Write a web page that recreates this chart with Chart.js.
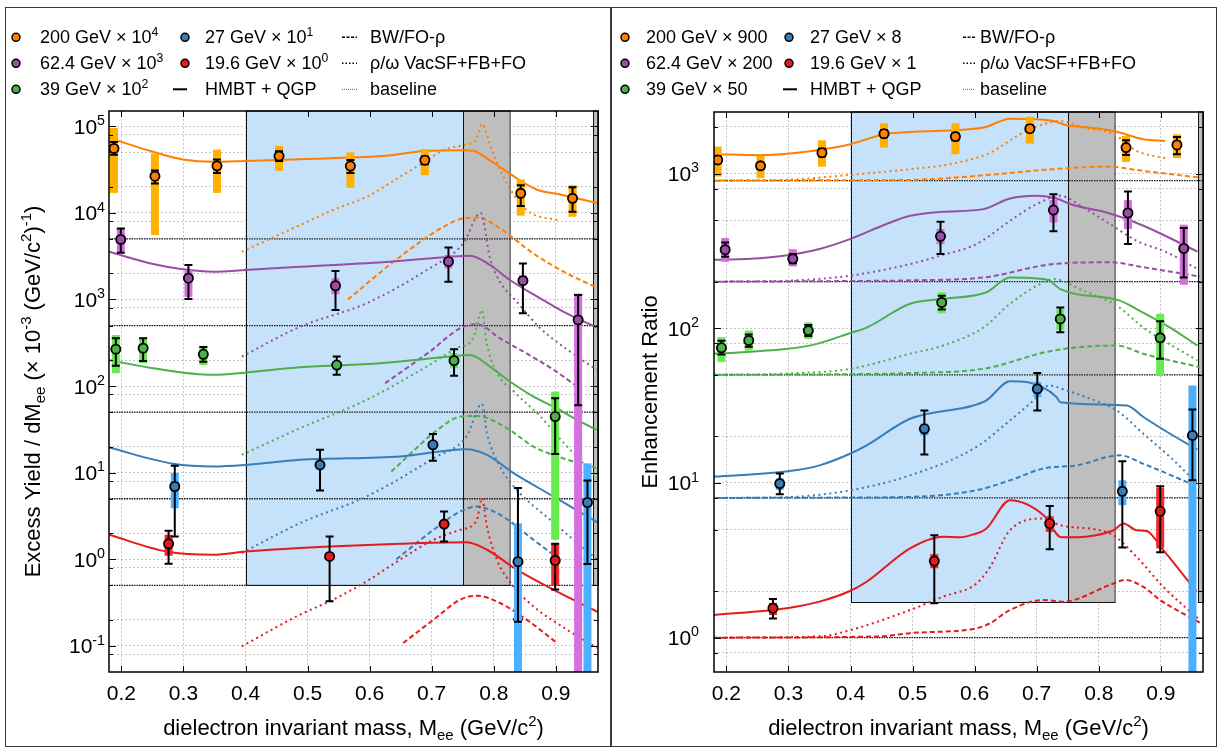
<!DOCTYPE html>
<html>
<head>
<meta charset="utf-8">
<script src="https://cdn.jsdelivr.net/npm/chart.js@4.4.0/dist/chart.umd.min.js"></script>
<style>
  body { margin: 0; background: #fff; }
  #wrap { position: relative; width: 1221px; height: 747px; }
  canvas { position: absolute; top: 0; }
  #yieldChart { left: 0; }
  #ratioChart { left: 611px; }
  .frame { position: absolute; border: 1.5px solid #3a3a3a; box-sizing: border-box; pointer-events: none; }
</style>
</head>
<body>
<div id="wrap">
  <canvas id="yieldChart" width="611" height="747"></canvas>
  <canvas id="ratioChart" width="610" height="747"></canvas>
  <div class="frame" style="left:5px;top:7px;width:607px;height:740px"></div>
  <div class="frame" style="left:610px;top:7px;width:607px;height:740px"></div>
</div>
<script>
// categories and axis setup
const energies = ['200', '62.4', '39', '27', '19.6'];
const yieldScaleExp = ['4', '3', '2', '1', '0'];
const ratioScale = ['900', '200', '50', '8', '1'];
const yieldBaselines = [5000, 500, 50, 5, 0.5];
const ratioBaselines = [900, 200, 50, 8, 1];
const massTicks = [0.2, 0.3, 0.4, 0.5, 0.6, 0.7, 0.8, 0.9];
const massRange = [0.18, 0.968];
const yieldRange = [0.05, 1.5e5];
const ratioRange = [0.6, 2500];
const yieldMajor = [0.1, 1, 10, 100, 1000, 10000, 100000];
const yieldMinor = [0.08, 0.2, 0.5, 0.8, 2, 5, 8, 20, 50, 80, 200, 500, 800, 2000, 5000, 8000, 20000, 50000, 80000];
const ratioMajor = [1, 10, 100, 1000];
const ratioMinor = [0.8, 2, 5, 8, 20, 50, 80, 200, 500, 800, 2000];
const bandEdges = [0.4, 0.75, 0.825, 0.96];
const yieldBandFloor = 0.5;
const ratioBandFloor = 1.7;

// data points: [mass, value, statLow, statHigh, sysLow, sysHigh]
// ---- excess yield panel ----
const yPts200 = [[0.188,5.55e4,4.68e4,6.6e4,1.7e4,9.55e4],[0.254,2.65e4,2.19e4,3.09e4,5.55e3,4.85e4],[0.354,3.49e4,2.88e4,4.14e4,1.7e4,5.37e4],[0.454,4.52e4,3.98e4,5.13e4,3.06e4,5.94e4],[0.569,3.47e4,2.88e4,4.07e4,1.95e4,4.99e4],[0.689,4.06e4,3.63e4,4.47e4,2.73e4,5.45e4],[0.8435,1.68e4,1.2e4,2.09e4,9.27e3,2.43e4],[0.927,1.47e4,1.03e4,1.97e4,9.0e3,2.09e4]];
const yPts62 = [[0.199,4.94e3,3.47e3,6.61e3,3.55e3,6.61e3],[0.308,1.76e3,1.01e3,2.5e3,1.07e3,2.19e3],[0.545,1.44e3,757,2.13e3,1.15e3,1.76e3],[0.727,2.75e3,1.6e3,3.98e3,2.29e3,3.26e3],[0.847,1.65e3,692,2.61e3,1.48e3,1.91e3],[0.936,581,60,1.13e3,0.01,1.17e3]];
const yPts39 = [[0.191,267,172,356,141,389],[0.235,274,195,356,184,366],[0.332,233,191,282,175,291],[0.547,175,135,219,158,195],[0.736,197,132,267,161,240],[0.899,44.5,16.4,72.4,1.68,86.5]];
const yPts27 = [[0.286,6.93,1.84,12.0,3.89,10.0],[0.52,12.3,6.24,18.4,11.2,13.5],[0.702,21.0,13.7,27.9,19.0,22.9],[0.839,0.94,0.19,6.64,0.01,2.6],[0.951,4.53,0.88,8.13,0.01,12.8]];
const yPts19 = [[0.276,1.51,0.89,2.14,1.1,1.92],[0.5355,1.08,0.327,1.84,1.0,1.17],[0.72,2.55,1.61,3.57,2.34,2.75],[0.899,0.97,0.447,1.51,0.495,1.51]];
const yLimit27 = [[0.839, 0.19]];

// model curves: HMBT + QGP (solid), rho/omega VacSF (dotted), BW/FO-rho (dashed)
const yHm200 = [[0.18,7.35e4],[0.251,5.07e4],[0.299,4.14e4],[0.348,3.89e4],[0.4,3.98e4],[0.488,4.17e4],[0.621,4.52e4],[0.692,5.2e4],[0.751,5.3e4],[0.767,5.2e4],[0.789,4.26e4],[0.821,2.99e4],[0.869,1.86e4],[0.907,1.63e4],[0.968,1.29e4]];
const yRho200 = [[0.394,3.56e3],[0.488,7.23e3],[0.541,1.08e4],[0.595,1.53e4],[0.649,2.61e4],[0.689,3.89e4],[0.719,5.3e4],[0.751,6.05e4],[0.772,7.0e4],[0.781,1.06e5],[0.797,5.3e4],[0.821,2.19e4],[0.853,1.08e4],[0.907,8.11e3]];
const yBw200 = [[0.565,1.0e3],[0.649,3.12e3],[0.724,7.23e3],[0.751,8.63e3],[0.775,8.79e3],[0.81,6.61e3],[0.864,3.39e3],[0.918,2.0e3],[0.966,1.37e3]];
const yHm62 = [[0.18,3.56e3],[0.251,2.57e3],[0.299,2.23e3],[0.348,2.09e3],[0.4,2.19e3],[0.488,2.39e3],[0.633,2.73e3],[0.73,3.12e3],[0.762,3.2e3],[0.794,2.5e3],[0.826,1.68e3],[0.875,1.03e3],[0.912,724],[0.966,473]];
const yRho62 = [[0.394,219],[0.488,485],[0.595,904],[0.692,2.19e3],[0.751,4.45e3],[0.779,1.0e4],[0.794,2.99e3],[0.81,1.6e3],[0.837,944],[0.875,466],[0.923,250],[0.966,154]];
const yBw62 = [[0.625,108],[0.697,250],[0.746,466],[0.773,518],[0.81,356],[0.857,229],[0.901,147],[0.934,98.6]];
const yHm39 = [[0.18,200],[0.251,161],[0.348,135],[0.4,143],[0.488,165],[0.617,184],[0.73,219],[0.762,229],[0.794,168],[0.826,113],[0.864,75.7],[0.901,55.6],[0.934,40.7],[0.966,31.3]];
const yRho39 = [[0.394,16.1],[0.488,32.7],[0.595,69.3],[0.692,168],[0.74,274],[0.767,356],[0.781,757],[0.788,326],[0.804,147],[0.832,87.1],[0.875,44.7],[0.912,22.4],[0.966,8.9]];
const yBw39 = [[0.635,10.3],[0.713,32.7],[0.746,44.5],[0.773,45.3],[0.821,32.7],[0.864,20],[0.91,14.8],[0.966,11.3]];
const yHm27 = [[0.18,19.5],[0.283,12.7],[0.348,11.8],[0.4,12.3],[0.488,14.1],[0.649,15.4],[0.756,18.7],[0.789,16.1],[0.832,9.89],[0.896,5.32],[0.969,2.62]];
const yRho27 = [[0.394,1.18],[0.488,2.62],[0.595,5.32],[0.703,14.7],[0.756,26.2],[0.781,62.4],[0.789,28.6],[0.81,11.8],[0.837,6.35],[0.891,2.86],[0.966,1.0]];
const yBw27 = [[0.643,1.0],[0.703,2.19],[0.746,3.57],[0.773,4.07],[0.81,3.27],[0.864,1.68],[0.907,0.99]];
const yHm19 = [[0.18,1.92],[0.273,1.23],[0.348,1.13],[0.4,1.23],[0.488,1.35],[0.649,1.51],[0.756,1.57],[0.789,1.29],[0.837,0.76],[0.896,0.447],[0.969,0.244]];
const yRho19 = [[0.394,0.099],[0.488,0.23],[0.541,0.342],[0.595,0.556],[0.649,0.99],[0.703,1.68],[0.746,2.19],[0.773,2.86],[0.781,5.09],[0.789,2.4],[0.805,0.99],[0.832,0.486],[0.864,0.286],[0.918,0.154],[0.966,0.0948]];
const yBw19 = [[0.654,0.108],[0.703,0.201],[0.746,0.342],[0.773,0.38],[0.81,0.313],[0.853,0.201],[0.902,0.108]];

// ---- enhancement ratio panel ----
const rPts200 = [[0.186,1225,1175,1288,957,1493],[0.255,1122,1072,1175,933,1300],[0.354,1365,1288,1445,1109,1641],[0.454,1811,1718,1905,1472,2113],[0.569,1734,1641,1820,1334,2113],[0.689,1950,1862,2042,1563,2333],[0.844,1472,1318,1641,1189,1750],[0.926,1531,1334,1726,1259,1795]];
const rPts62 = [[0.198,322,290,359,269,383],[0.307,281,263,302,251,324],[0.545,393,302,488,350,438],[0.727,581,423,736,483,676],[0.847,556,350,766,438,673],[0.937,328,213,445,191,467]];
const rPts39 = [[0.192,74.8,67.6,83.2,60.4,87.5],[0.236,83.4,75.9,91.2,71.8,96.6],[0.332,96.6,89.1,105,85.3,109],[0.547,147,132,162,125,171],[0.738,115,94.2,136,97.7,133],[0.899,86.7,63.5,111,49.5,124]];
const rPts27 = [[0.286,9.91,8.45,11.5,9.02,10.7],[0.519,22.4,15.3,29.4,20.3,24.2],[0.701,40.6,29.4,51.3,35.9,44.9],[0.838,8.83,3.83,13.8,7.18,10.4],[0.951,20.3,10.4,29.9,0.1,42.7]];
const rPts19 = [[0.275,1.55,1.33,1.78,1.4,1.68],[0.535,3.13,1.67,4.6,2.81,3.47],[0.721,5.47,3.73,7.11,4.83,6.1],[0.899,6.56,3.56,9.53,3.78,9.33]];

const rHm200 = [[0.18,1334],[0.254,1315],[0.302,1346],[0.356,1435],[0.4,1549],[0.454,1795],[0.496,1858],[0.614,1982],[0.657,2265],[0.7,2244],[0.727,2188],[0.748,2051],[0.775,2000],[0.824,1884],[0.872,1667],[0.907,1626]];
const rRho200 = [[0.18,900],[0.3,912],[0.4,982],[0.496,1067],[0.56,1151],[0.625,1365],[0.673,1795],[0.711,2084],[0.738,2188],[0.775,1982],[0.824,1795],[0.861,1400],[0.907,1256]];
const rBw200 = [[0.18,900],[0.4,905],[0.496,910],[0.625,982],[0.727,1067],[0.813,1109],[0.872,1040],[0.963,942]];
const rHm62 = [[0.18,277],[0.254,284],[0.302,298],[0.35,325],[0.4,378],[0.458,472],[0.496,533],[0.549,566],[0.614,589],[0.657,690],[0.7,718],[0.732,690],[0.754,635],[0.818,552],[0.872,460],[0.959,313]];
const rRho62 = [[0.18,200],[0.3,203],[0.4,219],[0.496,260],[0.549,298],[0.603,350],[0.657,495],[0.7,635],[0.738,718],[0.775,604],[0.818,472],[0.861,368],[0.91,309],[0.959,242]];
const rBw62 = [[0.18,200],[0.4,202],[0.496,204],[0.615,213],[0.727,260],[0.818,267],[0.872,248],[0.963,216]];
const rHm39 = [[0.18,68.4],[0.298,73.6],[0.346,79.3],[0.4,93.3],[0.426,101],[0.496,144],[0.549,155],[0.619,171],[0.657,213],[0.7,210],[0.721,203],[0.738,179],[0.834,151],[0.861,133],[0.915,101],[0.959,77.3]];
const rRho39 = [[0.18,50],[0.3,51],[0.4,54.7],[0.496,68.4],[0.549,77.3],[0.614,101],[0.657,144],[0.7,188],[0.727,208],[0.775,175],[0.829,140],[0.872,101],[0.959,61.9]];
const rBw39 = [[0.18,50],[0.4,50.5],[0.496,51.3],[0.614,54.7],[0.727,71.8],[0.829,77.3],[0.872,68.4],[0.963,56]];
const rHm27 = [[0.18,11.0],[0.299,11.9],[0.35,13.0],[0.4,15.5],[0.426,17.5],[0.496,26],[0.598,31.7],[0.619,34.2],[0.657,45.5],[0.684,44.9],[0.732,35.9],[0.738,33.3],[0.845,31.7],[0.872,26.7],[0.915,20.8],[0.959,16.4]];
const rRho27 = [[0.18,8],[0.3,8.1],[0.4,8.97],[0.496,11.2],[0.603,17.1],[0.657,25.4],[0.695,34.2],[0.72,42.7],[0.748,39.6],[0.786,35.1],[0.829,29.4],[0.872,20.8],[0.915,14.7],[0.959,9.91]];
const rBw27 = [[0.18,8],[0.4,8.05],[0.496,8.13],[0.603,8.97],[0.657,10.4],[0.711,12.4],[0.765,13],[0.834,15.1],[0.872,13.3],[0.963,9.33]];
const rHm19 = [[0.18,1.4],[0.297,1.55],[0.35,1.71],[0.4,2.01],[0.426,2.3],[0.496,3.78],[0.549,4.49],[0.576,4.45],[0.598,4.65],[0.619,5.08],[0.657,7.73],[0.711,6.19],[0.74,4.45],[0.824,4.95],[0.84,5.47],[0.861,4.95],[0.877,4.9],[0.904,3.68],[0.958,1.98]];
const rRho19 = [[0.18,1],[0.35,1.02],[0.4,1.12],[0.496,1.51],[0.549,1.84],[0.603,2.24],[0.625,2.87],[0.657,4.95],[0.711,5.89],[0.738,5.33],[0.818,4.72],[0.861,3.33],[0.904,2.13],[0.96,1.33]];
const rBw19 = [[0.18,1],[0.45,1.02],[0.496,1.07],[0.603,1.15],[0.625,1.24],[0.657,1.51],[0.711,1.75],[0.743,1.71],[0.818,2.19],[0.842,2.36],[0.872,2.13],[0.899,1.75],[0.963,1.25]];

// colours
const seriesColors = ['#ff7f00', '#984ea3', '#4daf4a', '#377eb8', '#e41a1c'];
const sysColors = ['#ffb000', '#d76ee0', '#66ec4e', '#4cb0ff', '#ff2424'];
const bandBlue = '#c6e1fa';
const bandGrey = '#bebebe';
const FONT = '"Liberation Sans", Arial, Helvetica, sans-serif';

// draws text with sub/superscripts, parts = [[text, ''|'sup'|'sub'], ...]
function rich(ctx, parts, x, y, fs, align) {
  const sizes = parts.map(p => p[1] ? fs * 0.68 : fs);
  let total = 0;
  const widths = parts.map((p, i) => {
    ctx.font = sizes[i] + 'px ' + FONT;
    const w = ctx.measureText(p[0]).width;
    total += w;
    return w;
  });
  let cx = align === 'center' ? x - total / 2 : (align === 'right' ? x - total : x);
  ctx.textAlign = 'left';
  ctx.textBaseline = 'alphabetic';
  parts.forEach((p, i) => {
    ctx.font = sizes[i] + 'px ' + FONT;
    const dy = p[1] === 'sup' ? -fs * 0.42 : (p[1] === 'sub' ? fs * 0.24 : 0);
    ctx.fillText(p[0], cx, y + dy);
    cx += widths[i];
  });
  return total;
}

function toXY(arr) {
  return arr.map(r => ({ x: r[0], y: r[1] }));
}

function curve(arr, color, dash, order, width) {
  return {
    type: 'line', data: toXY(arr), borderColor: color, borderWidth: width || 2,
    borderDash: dash, pointRadius: 0, fill: false, order: order,
    cubicInterpolationMode: 'monotone'
  };
}

const yieldPanel = {
  pts: [yPts200, yPts62, yPts39, yPts27, yPts19],
  hm: [yHm200, yHm62, yHm39, yHm27, yHm19],
  rho: [yRho200, yRho62, yRho39, yRho27, yRho19],
  bw: [yBw200, yBw62, yBw39, yBw27, yBw19],
  base: yieldBaselines, major: yieldMajor, minor: yieldMinor, range: yieldRange,
  floor: yieldBandFloor, limits: yLimit27,
  pad: { left: 0, top: 111, right: 13, bottom: 0 }, yWidth: 109, labelGap: 4,
  title: [['Excess Yield / dM', ''], ['ee', 'sub'], [' (× 10', ''], ['-3', 'sup'], [' (GeV/c', ''], ['2', 'sup'], [')', ''], ['-1', 'sup'], [')', '']],
  titleX: 40,
  leg: { mark: [16, 185], text: [40, 205], hm: [173, 187], line: [342, 357], lineText: 370 },
  legText: i => [[energies[i] + ' GeV × 10', ''], [yieldScaleExp[i], 'sup']]
};

const ratioPanel = {
  pts: [rPts200, rPts62, rPts39, rPts27, rPts19],
  hm: [rHm200, rHm62, rHm39, rHm27, rHm19],
  rho: [rRho200, rRho62, rRho39, rRho27, rRho19],
  bw: [rBw200, rBw62, rBw39, rBw27, rBw19],
  base: ratioBaselines, major: ratioMajor, minor: ratioMinor, range: ratioRange,
  floor: ratioBandFloor, limits: [],
  pad: { left: 0, top: 112, right: 18, bottom: 0 }, yWidth: 103, labelGap: 15,
  title: [['Enhancement Ratio', '']],
  titleX: 46,
  leg: { mark: [14, 178], text: [35, 199], hm: [172, 186], line: [352, 364], lineText: 369 },
  legText: i => [[energies[i] + ' GeV × ' + ratioScale[i], '']]
};

// panel settings looked up by canvas id (kept out of chart options)
const panels = { yieldChart: yieldPanel, ratioChart: ratioPanel };

const decor = {
  id: 'decor',
  beforeDatasetsDraw(chart) {
    const p = panels[chart.canvas.id];
    const { ctx, chartArea: a, scales: { x, y } } = chart;
    const yb = y.getPixelForValue(p.floor);
    const rects = [[bandEdges[0], bandEdges[1], bandBlue], [bandEdges[1], bandEdges[2], bandGrey], [bandEdges[3], massRange[1], bandGrey]];
    ctx.save();
    rects.forEach(([x0, x1, c]) => {
      const px0 = x.getPixelForValue(x0), px1 = x.getPixelForValue(x1);
      ctx.fillStyle = c;
      ctx.fillRect(px0, a.top, px1 - px0, yb - a.top);
      ctx.strokeStyle = '#111';
      ctx.lineWidth = 1;
      ctx.strokeRect(Math.round(px0) + 0.5, a.top, px1 - px0, Math.round(yb - a.top) + 0.5);
    });
    ctx.restore();
  },
  beforeDatasetDraw(chart, args) {
    const ds = chart.data.datasets[args.index];
    if (!ds.err) return;
    const { ctx, chartArea: a, scales: { x, y } } = chart;
    ctx.save();
    ctx.beginPath();
    ctx.rect(a.left, a.top, a.width, a.height);
    ctx.clip();
    ds.err.forEach(r => {
      const px = x.getPixelForValue(r[0]);
      const s0 = y.getPixelForValue(r[4]), s1 = y.getPixelForValue(r[5]);
      ctx.fillStyle = ds.sysColor;
      ctx.fillRect(px - 4, s1, 8, s0 - s1);
    });
    ds.err.forEach(r => {
      const px = x.getPixelForValue(r[0]);
      const e0 = y.getPixelForValue(r[2]), e1 = y.getPixelForValue(r[3]);
      ctx.strokeStyle = '#000';
      ctx.lineWidth = 2;
      ctx.beginPath();
      ctx.moveTo(px, e0); ctx.lineTo(px, e1);
      ctx.moveTo(px - 4, e0); ctx.lineTo(px + 4, e0);
      ctx.moveTo(px - 4, e1); ctx.lineTo(px + 4, e1);
      ctx.stroke();
    });
    ctx.restore();
  },
  afterDraw(chart) {
    const p = panels[chart.canvas.id];
    const { ctx, chartArea: a, scales: { x, y } } = chart;
    ctx.save();
    // axis frame
    ctx.strokeStyle = '#000';
    ctx.lineWidth = 1.5;
    ctx.strokeRect(a.left, a.top, a.width, a.height);
    // inward ticks
    ctx.lineWidth = 1;
    ctx.beginPath();
    p.major.concat(p.minor).forEach(v => {
      const py = Math.round(y.getPixelForValue(v)) + 0.5;
      const len = p.major.includes(v) ? 7 : 4;
      ctx.moveTo(a.left, py); ctx.lineTo(a.left + len, py);
      ctx.moveTo(a.right, py); ctx.lineTo(a.right - len, py);
    });
    massTicks.forEach(v => {
      const px = Math.round(x.getPixelForValue(v)) + 0.5;
      ctx.moveTo(px, a.bottom); ctx.lineTo(px, a.bottom - 6);
      ctx.moveTo(px, a.top); ctx.lineTo(px, a.top + 6);
    });
    ctx.stroke();
    // y tick labels 10^n
    ctx.fillStyle = '#000';
    p.major.forEach(v => {
      const py = y.getPixelForValue(v);
      const ex = String(Math.round(Math.log10(v)));
      rich(ctx, [['10', ''], [ex, 'sup']], a.left - p.labelGap, py + 7.5, 21, 'right');
    });
    // x title
    rich(ctx, [['dielectron invariant mass, M', ''], ['ee', 'sub'], [' (GeV/c', ''], ['2', 'sup'], [')', '']],
      (a.left + a.right) / 2, 735, 22, 'center');
    // y title
    ctx.save();
    ctx.translate(p.titleX, (a.top + a.bottom) / 2);
    ctx.rotate(-Math.PI / 2);
    rich(ctx, p.title, 0, 0, 22, 'center');
    ctx.restore();
    // legend
    const rows = [37.3, 63.3, 89.3];
    const L = p.leg;
    energies.forEach((e, i) => {
      const col = i < 3 ? 0 : 1, yy = rows[i % 3];
      ctx.beginPath();
      ctx.arc(L.mark[col], yy, 4, 0, 2 * Math.PI);
      ctx.fillStyle = seriesColors[i];
      ctx.fill();
      ctx.lineWidth = 1.5;
      ctx.strokeStyle = '#000';
      ctx.stroke();
      ctx.fillStyle = '#000';
      rich(ctx, p.legText(i), L.text[col], yy + 6, 18, 'left');
    });
    const samples = [
      { x0: L.hm[0], x1: L.hm[1], y: rows[2], dash: [], w: 2, c: '#000', t: 'HMBT + QGP', tx: L.text[1] },
      { x0: L.line[0], x1: L.line[1], y: rows[0], dash: [3, 1.5], w: 1.5, c: '#000', t: 'BW/FO-ρ', tx: L.lineText },
      { x0: L.line[0], x1: L.line[1], y: rows[1], dash: [1.5, 2], w: 1.5, c: '#000', t: 'ρ/ω VacSF+FB+FO', tx: L.lineText },
      { x0: L.line[0], x1: L.line[1], y: rows[2], dash: [1, 1], w: 1.2, c: '#777', t: 'baseline', tx: L.lineText }
    ];
    samples.forEach(s => {
      ctx.beginPath();
      ctx.setLineDash(s.dash);
      ctx.lineWidth = s.w;
      ctx.strokeStyle = s.c;
      ctx.moveTo(s.x0, s.y); ctx.lineTo(s.x1, s.y);
      ctx.stroke();
      ctx.setLineDash([]);
      ctx.fillStyle = '#000';
      rich(ctx, [[s.t, '']], s.tx, s.y + 6, 18, 'left');
    });
    ctx.restore();
  }
};

function buildPanel(canvasId, p) {
  const datasets = [];
  energies.forEach((e, i) => {
    datasets.push({
      type: 'scatter', label: e + ' GeV', data: toXY(p.pts[i]), err: p.pts[i], sysColor: sysColors[i],
      pointRadius: 4.6, pointBackgroundColor: seriesColors[i], pointBorderColor: '#000',
      pointBorderWidth: 1.8, showLine: false, order: 0
    });
    datasets.push(curve(p.hm[i], seriesColors[i], [], 6));
    datasets.push(curve(p.rho[i], seriesColors[i], [2, 3.5], 7));
    datasets.push(curve(p.bw[i], seriesColors[i], [5, 3], 8));
    datasets.push(curve([[massRange[0], p.base[i]], [massRange[1], p.base[i]]], '#1a1a1a', [1.5, 1], 10, 1.3));
  });
  if (p.limits.length) {
    datasets.push({
      type: 'scatter', data: toXY(p.limits), pointStyle: 'triangle', rotation: 180,
      pointRadius: 5, pointBackgroundColor: '#fff', pointBorderColor: '#000', pointBorderWidth: 1.5, order: 0
    });
  }
  const gridStyle = { color: 'rgba(0,0,0,0.22)', lineWidth: 1, drawTicks: false };
  return new Chart(document.getElementById(canvasId), {
    type: 'line',
    data: { datasets },
    options: {
      responsive: false,
      animation: false,
      devicePixelRatio: 1,
      layout: { padding: p.pad },
      plugins: { legend: { display: false }, tooltip: { enabled: false } },
      events: [],
      scales: {
        x: {
          type: 'linear', min: massRange[0], max: massRange[1],
          afterBuildTicks: s => { s.ticks = massTicks.map(v => ({ value: v })); },
          afterFit: s => { s.height = 75; },
          ticks: { autoSkip: false, maxRotation: 0, padding: 10, color: '#000', font: { size: 21, family: FONT }, callback: v => v.toFixed(1) },
          grid: gridStyle,
          border: { display: false, dash: [2, 2] }
        },
        y: {
          type: 'logarithmic', min: p.range[0], max: p.range[1],
          afterBuildTicks: s => { s.ticks = p.major.concat(p.minor).map(v => ({ value: v })); },
          afterFit: s => { s.width = p.yWidth; },
          ticks: { autoSkip: false, callback: () => '' },
          grid: gridStyle,
          border: { display: false, dash: [2, 2] }
        }
      }
    },
    plugins: [decor]
  });
}

buildPanel('yieldChart', yieldPanel);
buildPanel('ratioChart', ratioPanel);
</script>
</body>
</html>
